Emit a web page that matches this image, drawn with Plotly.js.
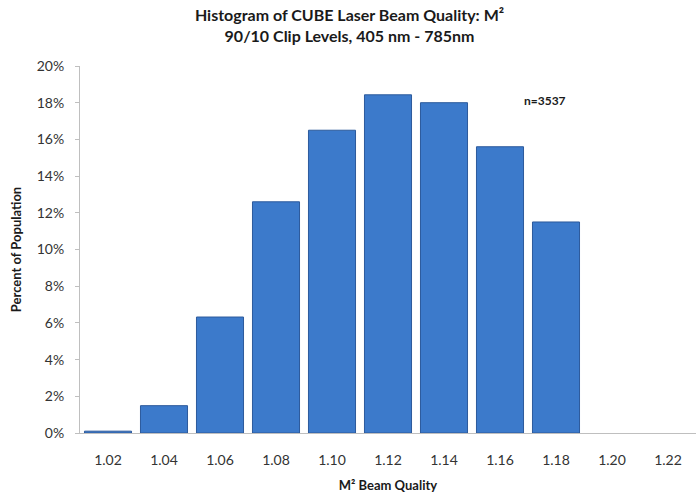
<!DOCTYPE html>
<html>
<head>
<meta charset="utf-8">
<script src="https://cdn.plot.ly/plotly-3.0.1.min.js"></script>
<style>html,body{margin:0;padding:0;background:#fff;}#chart{width:699px;height:497px;}</style>
</head>
<body>
<div id="chart"></div>
<script>
const categories = ["1.02","1.04","1.06","1.08","1.10","1.12","1.14","1.16","1.18","1.20","1.22"];
const percentValues = [0.001, 0.0149, 0.0632, 0.126, 0.165, 0.1843, 0.180, 0.156, 0.115, 0, 0];
const yTickVals = [0,0.02,0.04,0.06,0.08,0.10,0.12,0.14,0.16,0.18,0.20];
const yTickText = ["0%","2%","4%","6%","8%","10%","12%","14%","16%","18%","20%"];

const fontFam = "Lato, 'Open Sans', sans-serif";
const trace = {
  type: "bar",
  x: categories,
  y: percentValues,
  marker: {color: "#3c7acb", line: {color: "#2c5a9c", width: percentValues.map(v => v > 0 ? 1 : 0)}},
  hoverinfo: "x+y"
};
const layout = {
  width: 699, height: 497,
  margin: {l: 80, r: 3, t: 66, b: 64},
  paper_bgcolor: "#fff", plot_bgcolor: "#fff",
  bargap: 0.16,
  showlegend: false,
  title: {
    text: "<b>Histogram of CUBE Laser Beam Quality: M²</b><br><b>90/10 Clip Levels, 405 nm - 785nm</b>",
    font: {family: fontFam, size: 16, color: "#1a1a1a"},
    x: 0.5, xanchor: "center", yref: "container", y: 0.958, yanchor: "middle"
  },
  xaxis: {
    type: "category",
    showline: true, linecolor: "#bfbfbf", linewidth: 1,
    ticks: "", showgrid: false, zeroline: false,
    ticklabelstandoff: 14,
    tickfont: {family: fontFam, size: 14, color: "#333"},
    title: {text: "<b>M² Beam Quality</b>", font: {family: fontFam, size: 13, color: "#1a1a1a"}, standoff: 14}
  },
  yaxis: {
    range: [0, 0.2],
    tickvals: yTickVals, ticktext: yTickText,
    showline: true, linecolor: "#bfbfbf", linewidth: 1,
    ticks: "outside", ticklen: 4, tickcolor: "#bfbfbf",
    ticklabelstandoff: 8,
    showgrid: false, zeroline: false,
    tickfont: {family: fontFam, size: 14, color: "#333"},
    title: {text: "<b>Percent of Population</b>", font: {family: fontFam, size: 13, color: "#1a1a1a"}, standoff: 12}
  },
  annotations: [{
    text: "<b>n=3537</b>", x: 0.793, y: 0.932, xref: "paper", yref: "paper",
    showarrow: false, font: {family: fontFam, size: 12, color: "#1a1a1a"}
  }]
};
Plotly.newPlot("chart", [trace], layout, {displayModeBar: false, staticPlot: true});
</script>
</body>
</html>
